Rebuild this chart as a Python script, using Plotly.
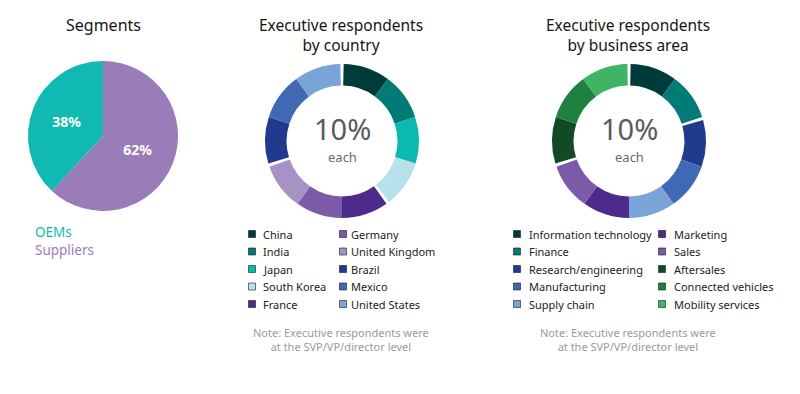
import plotly.graph_objects as go

# ---------------- data ----------------
segment_labels = ["OEMs", "Suppliers"]
segment_values = [38, 62]
segment_colors = ["#10b9b2", "#9a7cb9"]

country_labels = ["China", "India", "Japan", "South Korea", "France",
                  "Germany", "United Kingdom", "Brazil", "Mexico", "United States"]
country_values = [10, 10, 10, 10, 10, 10, 10, 10, 10, 10]
country_groups = [4, 3, 3]
country_colors = ["#003b3b", "#007b75", "#0bb9b3", "#b7e2ec", "#4e2a8c",
                  "#7c5aa8", "#a792c6", "#213a8e", "#3f69b3", "#7aa4d8"]

area_labels = ["Information technology", "Finance", "Research/engineering",
               "Manufacturing", "Supply chain", "Marketing", "Sales",
               "Aftersales", "Connected vehicles", "Mobility services"]
area_values = [10, 10, 10, 10, 10, 10, 10, 10, 10, 10]
area_groups = [2, 5, 3]
area_colors = ["#003b3b", "#007b75", "#213a8e", "#3f69b3", "#7aa4d8",
               "#4e2a8c", "#7c5aa8", "#114a25", "#1f8040", "#3db564"]

center_value = "10%"
center_sub = "each"
note_text = "Note: Executive respondents were<br>at the SVP/VP/director level"

W, H = 800, 394
FONT = "Noto Sans"


def px(x):
    return x / W


def py(y):
    return 1 - y / H


def ring(labels, values, colors, groups, gap):
    vals, cols, labs = [gap / 2], ["rgba(0,0,0,0)"], [" "]
    i = 0
    for gi, g in enumerate(groups):
        for _ in range(g):
            vals.append(values[i]); cols.append(colors[i]); labs.append(labels[i])
            i += 1
        if gi < len(groups) - 1:
            vals.append(gap); cols.append("rgba(0,0,0,0)"); labs.append(" " * (gi + 2))
    vals.append(gap / 2); cols.append("rgba(0,0,0,0)"); labs.append(" " * 9)
    return labs, vals, cols


fig = go.Figure()

# Segments pie (suppliers clockwise from 12 o'clock, OEMs closing the circle)
cx, cy, r = 103, 136, 75
fig.add_trace(go.Pie(
    labels=segment_labels[::-1], values=segment_values[::-1], sort=False,
    direction="clockwise",
    marker=dict(colors=segment_colors[::-1], line=dict(width=0)),
    texttemplate="<b>%{percent:.0%}</b>", textposition="inside",
    insidetextfont=dict(color="white", size=14, family=FONT),
    hoverinfo="none", showlegend=False,
    domain=dict(x=[px(cx - r), px(cx + r)], y=[py(cy + r), py(cy - r)]),
))

gap = 0.7
for labels, values, colors, groups, cx in [
    (country_labels, country_values, country_colors, country_groups, 342),
    (area_labels, area_values, area_colors, area_groups, 629),
]:
    labs, vals, cols = ring(labels, values, colors, groups, gap)
    cy, r = 141, 77
    fig.add_trace(go.Pie(
        labels=labs, values=vals, sort=False, direction="clockwise",
        hole=0.72, marker=dict(colors=cols, line=dict(width=0)),
        textinfo="none", hoverinfo="none", showlegend=False,
        domain=dict(x=[px(cx - r), px(cx + r)], y=[py(cy + r), py(cy - r)]),
    ))

ann = []
shapes = []

# titles
ann.append(dict(x=px(103), y=py(25), text="Segments", showarrow=False,
                font=dict(size=16, color="#161616", family=FONT),
                xanchor="center", yanchor="middle"))
for cx, sub in [(341, "by country"), (628, "by business area")]:
    ann.append(dict(x=px(cx), y=py(35), text="Executive respondents<br>" + sub,
                    showarrow=False, font=dict(size=15.5, color="#161616", family=FONT),
                    xanchor="center", yanchor="middle"))
    ann.append(dict(x=px(cx + 1), y=py(129), text=center_value, showarrow=False,
                    font=dict(size=29, color="#5a5a5a", family=FONT),
                    xanchor="center", yanchor="middle"))
    ann.append(dict(x=px(cx + 1), y=py(157), text=center_sub, showarrow=False,
                    font=dict(size=13, color="#6a6a6a", family=FONT),
                    xanchor="center", yanchor="middle"))
    ann.append(dict(x=px(cx), y=py(339), text=note_text, showarrow=False,
                    font=dict(size=11, color="#9a9a9a", family=FONT),
                    xanchor="center", yanchor="middle"))

# segments legend
for i, (lab, col) in enumerate(zip(segment_labels, segment_colors)):
    ann.append(dict(x=px(33), y=py(232 + 18 * i), text=lab, showarrow=False,
                    font=dict(size=13.5, color=col, family=FONT),
                    xanchor="left", yanchor="middle"))

# two-column legends
row_y = [234, 251.5, 269, 286.5, 304]
for labels, colors, col_sq, col_tx in [
    (country_labels, country_colors, [252, 343], [261, 349]),
    (area_labels, area_colors, [517, 662], [527, 672]),
]:
    for i, (lab, col) in enumerate(zip(labels, colors)):
        c, rr = divmod(i, 5)
        sx, sy = col_sq[c], row_y[rr]
        shapes.append(dict(type="rect", xref="paper", yref="paper",
                           x0=px(sx - 3.5), x1=px(sx + 3.5),
                           y0=py(sy + 3.5), y1=py(sy - 3.5),
                           fillcolor=col, line=dict(color="#1a1a1a", width=0.6)))
        ann.append(dict(x=px(col_tx[c]), y=py(sy), text=lab, showarrow=False,
                        font=dict(size=11, color="#222222", family=FONT),
                        xanchor="left", yanchor="middle"))

fig.update_layout(
    width=W, height=H, margin=dict(l=0, r=0, t=0, b=0),
    paper_bgcolor="white", plot_bgcolor="white",
    annotations=ann, shapes=shapes, showlegend=False,
    font=dict(family=FONT),
)

fig.write_html("out.html", config={"displayModeBar": False},
               post_script="document.body.style.margin='0';")
